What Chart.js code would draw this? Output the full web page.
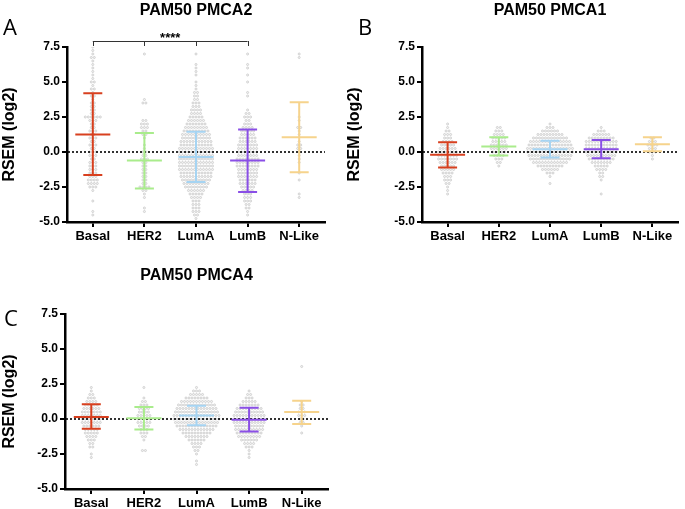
<!DOCTYPE html>
<html><head><meta charset="utf-8">
<script src="https://cdn.jsdelivr.net/npm/chart.js@4.4.1/dist/chart.umd.min.js"></script>
<style>
html,body{margin:0;padding:0;background:#fff;width:685px;height:509px;overflow:hidden}
.p{position:absolute}
</style></head><body>
<canvas id="cA" class="p" style="left:0;top:0" width="345" height="250"></canvas>
<canvas id="cB" class="p" style="left:345px;top:0" width="340" height="250"></canvas>
<canvas id="cC" class="p" style="left:0;top:250px" width="345" height="259"></canvas>
<script>
// ---------- data ----------
const categories = ['Basal', 'HER2', 'LumA', 'LumB', 'N-Like'];
const yTickValues = [-5.0, -2.5, 0.0, 2.5, 5.0, 7.5];
const groupColors = ['#d8401f', '#a9ec8c', '#a6d4f2', '#8a4fe6', '#f6d38c'];

// mean and mean±SD per subtype
const pmca2Mean  = [1.25, -0.6, -0.35, -0.6, 1.05];
const pmca2Upper = [4.2, 1.35, 1.45, 1.6, 3.55];
const pmca2Lower = [-1.65, -2.6, -2.15, -2.85, -1.45];

const pmca1Mean  = [-0.2, 0.4, 0.2, 0.2, 0.55];
const pmca1Upper = [0.7, 1.05, 0.8, 0.85, 1.05];
const pmca1Lower = [-1.1, -0.25, -0.4, -0.45, 0.05];

const pmca4Mean  = [0.15, 0.05, 0.25, -0.05, 0.5];
const pmca4Upper = [1.05, 0.85, 0.95, 0.8, 1.3];
const pmca4Lower = [-0.7, -0.75, -0.45, -0.9, -0.35];

// individual samples as [value, number of samples at that value]
const pmca2Basal = [[7.5,1],[7.25,1],[7,1],[6.75,2],[6.5,1],[6.25,1],[6,1],[5.75,1],[5.5,1],[5.25,1],[5,2],[4.75,1],[4.5,2],[4.25,1],[4,2],[3.75,1],[3.5,2],[3.25,2],[3,2],[2.75,2],[2.5,6],[2.25,3],[2,2],[1.75,2],[1.5,3],[1.25,2],[1,3],[0.75,2],[0.5,3],[0.25,2],[0,3],[-0.25,3],[-0.5,2],[-0.75,3],[-1,3],[-1.25,3],[-1.5,3],[-1.75,3],[-2,4],[-2.25,4],[-2.5,3],[-2.75,1],[-3.5,1],[-4.25,1],[-4.5,1]];
const pmca2HER2 = [[7,1],[3.75,1],[3.5,2],[2.25,2],[2,3],[1.75,3],[1.5,2],[1.25,2],[1,1],[0.5,1],[0.25,1],[0,2],[-0.25,2],[-0.5,3],[-0.75,2],[-1,2],[-1.25,2],[-1.5,2],[-1.75,2],[-2,2],[-2.25,2],[-2.5,4],[-2.75,2],[-3,1],[-3.25,1],[-4,1],[-4.25,1]];
const pmca2LumA = [[7,1],[6.25,1],[6,1],[5.75,1],[5.5,1],[5,1],[4.75,1],[4.5,1],[4.25,2],[4,2],[3.75,2],[3.5,3],[3.25,3],[3,4],[2.75,4],[2.5,5],[2.25,6],[2,7],[1.75,8],[1.5,9],[1.25,10],[1,10],[0.75,11],[0.5,11],[0.25,12],[0,12],[-0.25,12],[-0.5,12],[-0.75,12],[-1,12],[-1.25,12],[-1.5,11],[-1.75,11],[-2,10],[-2.25,9],[-2.5,8],[-2.75,6],[-3,5],[-3.25,4],[-3.5,3],[-3.75,3],[-4,3],[-4.25,3],[-4.5,2],[-4.75,1]];
const pmca2LumB = [[7,1],[6.25,1],[6,1],[5.5,1],[5,1],[4.25,1],[4,1],[3,1],[2.75,2],[2.5,3],[2.25,2],[2,3],[1.75,4],[1.5,5],[1.25,5],[1,6],[0.75,6],[0.5,7],[0.25,7],[0,7],[-0.25,7],[-0.5,8],[-0.75,8],[-1,8],[-1.25,7],[-1.5,7],[-1.75,7],[-2,6],[-2.25,6],[-2.5,5],[-2.75,4],[-3,3],[-3.25,3],[-3.5,3],[-3.75,2],[-4,2],[-4.25,1],[-4.5,1]];
const pmca2NLike = [[7,1],[6.75,1],[2.5,1],[2.25,1],[1.75,2],[1.5,1],[1.25,1],[0.75,1],[0.5,2],[0.25,2],[0,1],[-0.25,1],[-0.5,1],[-0.75,1],[-1.5,1],[-2,1],[-3,1],[-3.25,1]];

const pmca1Basal = [[2,1],[1.75,1],[1.5,2],[1.25,3],[1,3],[0.75,4],[0.5,5],[0.25,6],[0,7],[-0.25,7],[-0.5,7],[-0.75,6],[-1,5],[-1.25,5],[-1.5,4],[-1.75,3],[-2,3],[-2.25,2],[-2.5,1],[-2.75,1],[-3,1]];
const pmca1HER2 = [[1.75,2],[1.5,3],[1.25,4],[1,5],[0.75,5],[0.5,6],[0.25,6],[0,5],[-0.25,4],[-0.5,3],[-0.75,2],[-1,1]];
const pmca1LumA = [[2,1],[1.75,3],[1.5,6],[1.25,9],[1,12],[0.75,14],[0.5,15],[0.25,16],[0,16],[-0.25,15],[-0.5,14],[-0.75,12],[-1,9],[-1.25,6],[-1.5,3],[-1.75,1],[-2.25,1]];
const pmca1LumB = [[1.75,1],[1.5,3],[1.25,6],[1,9],[0.75,11],[0.5,11],[0.25,11],[0,11],[-0.25,10],[-0.5,9],[-0.75,7],[-1,5],[-1.25,4],[-1.5,2],[-1.75,2],[-2,1],[-3,1]];
const pmca1NLike = [[1,2],[0.75,3],[0.5,4],[0.25,3],[0,3],[-0.25,1],[-0.5,1]];

const pmca4Basal = [[2.25,1],[2,1],[1.75,2],[1.5,3],[1.25,4],[1,5],[0.75,6],[0.5,7],[0.25,7],[0,7],[-0.25,7],[-0.5,6],[-0.75,5],[-1,5],[-1.25,4],[-1.5,3],[-1.75,2],[-2,2],[-2.5,1],[-2.75,1]];
const pmca4HER2 = [[2.25,1],[1.5,1],[1.25,2],[1,3],[0.75,4],[0.5,4],[0.25,5],[0,5],[-0.25,5],[-0.5,4],[-0.75,3],[-1,3],[-1.25,2],[-1.5,1],[-2.25,2]];
const pmca4LumA = [[2.25,1],[2,3],[1.75,5],[1.5,8],[1.25,11],[1,13],[0.75,14],[0.5,15],[0.25,16],[0,16],[-0.25,15],[-0.5,14],[-0.75,12],[-1,10],[-1.25,8],[-1.5,6],[-1.75,4],[-2,3],[-2.25,2],[-2.5,1],[-3,1],[-3.25,1]];
const pmca4LumB = [[2,1],[1.75,2],[1.5,3],[1.25,5],[1,7],[0.75,9],[0.5,10],[0.25,11],[0,11],[-0.25,11],[-0.5,10],[-0.75,10],[-1,9],[-1.25,8],[-1.5,6],[-1.75,4],[-2,3],[-2.25,1],[-2.5,1],[-2.75,1]];
const pmca4NLike = [[3.75,1],[1.25,1],[1,2],[0.75,2],[0.5,3],[0.25,3],[0,2],[-0.25,2],[-0.5,1],[-1,1]];

// ---------- drawing ----------
const FONT = "'Liberation Sans', Arial, Helvetica, sans-serif";
const DOT_GAP = 3; // px between neighbouring dots in a swarm row

function expand(pairs, pos) {
  const out = [];
  pairs.forEach(([v, c]) => { for (let k = 0; k < c; k++) out.push({x: pos, y: v, k: k, n: c}); });
  return out;
}

const extrasPlugin = {
  id: 'extras',
  afterDatasetsDraw(chart) {
    const cfg = chart.options.plugins.extras;
    const ctx = chart.ctx, xs = chart.scales.x, ys = chart.scales.y, a = chart.chartArea;
    ctx.save();
    // dotted zero line
    const y0 = ys.getPixelForValue(0);
    ctx.strokeStyle = '#000'; ctx.lineWidth = 1.6; ctx.setLineDash([2, 2]);
    ctx.beginPath(); ctx.moveTo(a.left + 1, y0); ctx.lineTo(a.right, y0); ctx.stroke();
    ctx.setLineDash([]);
    // mean ± SD bars
    ctx.lineWidth = 2;
    categories.forEach((c, i) => {
      const x = xs.getPixelForValue(i + 1);
      const ym = ys.getPixelForValue(cfg.mean[i]);
      const yu = ys.getPixelForValue(cfg.upper[i]);
      const yl = ys.getPixelForValue(cfg.lower[i]);
      ctx.strokeStyle = groupColors[i];
      ctx.beginPath();
      ctx.moveTo(x, yu); ctx.lineTo(x, yl);
      ctx.moveTo(x - 9.5, yu); ctx.lineTo(x + 9.5, yu);
      ctx.moveTo(x - 9.5, yl); ctx.lineTo(x + 9.5, yl);
      ctx.moveTo(x - 17.5, ym); ctx.lineTo(x + 17.5, ym);
      ctx.stroke();
    });
    ctx.restore();
  },
  afterDraw(chart) {
    const cfg = chart.options.plugins.extras;
    const ctx = chart.ctx, xs = chart.scales.x, a = chart.chartArea;
    ctx.save();
    ctx.fillStyle = '#000';
    ctx.textBaseline = 'alphabetic';
    // panel title
    ctx.font = 'bold 16px ' + FONT;
    ctx.textAlign = 'center';
    ctx.fillText(cfg.title, (a.left + a.right) / 2, cfg.titleY);
    // panel letter
    ctx.font = "22px 'Open Sans', 'Liberation Sans', sans-serif";
    ctx.textAlign = 'left';
    ctx.fillText(cfg.letter, cfg.letterX, cfg.letterY);
    // significance bracket
    if (cfg.bracket) {
      const xsB = cfg.bracket.map(i => xs.getPixelForValue(i + 1));
      const yb = a.top - 6;
      ctx.strokeStyle = '#333'; ctx.lineWidth = 1;
      ctx.beginPath();
      ctx.moveTo(xsB[0], yb + 0.5); ctx.lineTo(xsB[xsB.length - 1], yb + 0.5);
      xsB.forEach(x => { ctx.moveTo(Math.round(x) + 0.5, yb); ctx.lineTo(Math.round(x) + 0.5, yb + 5); });
      ctx.stroke();
      ctx.font = 'bold 13px ' + FONT;
      ctx.textAlign = 'center';
      ctx.fillText('****', (xsB[0] + xsB[xsB.length - 1]) / 2, yb + 0.5);
    }
    ctx.restore();
  }
};

function makePanel(p) {
  const datasets = p.dots.map((pairs, gi) => ({
    data: expand(pairs, gi + 1),
    pointRadius: 1.05,
    pointBorderWidth: 0.7,
    backgroundColor: 'rgba(240,240,240,0.9)',
    borderColor: '#c6c6c6',
    showLine: false
  }));
  const chart = new Chart(document.getElementById(p.id), {
    type: 'scatter',
    data: {datasets},
    plugins: [extrasPlugin],
    options: {
      responsive: false,
      animation: false,
      layout: {padding: {left: 0, right: p.padRight, top: p.padTop, bottom: 0}},
      plugins: {
        legend: {display: false},
        tooltip: {enabled: false},
        extras: {title: p.title, titleY: p.titleY, letter: p.letter, letterX: p.letterX, letterY: p.letterY,
                 mean: p.mean, upper: p.upper, lower: p.lower, bracket: p.bracket}
      },
      scales: {
        x: {
          type: 'linear', min: 0.5, max: 5.5,
          afterBuildTicks: s => { s.ticks = categories.map((c, i) => ({value: i + 1})); },
          ticks: {callback: v => categories[Math.round(v) - 1], color: '#000', autoSkip: false, maxRotation: 0,
                  padding: 2, font: {family: FONT, weight: 'bold', size: 13}},
          grid: {drawOnChartArea: false, drawTicks: true, tickLength: 5, color: '#000', lineWidth: 2},
          border: {display: true, color: '#000', width: 2.5},
          afterFit: s => { s.height = p.xH; }
        },
        y: {
          min: -5, max: 7.5,
          afterBuildTicks: s => { s.ticks = yTickValues.map(v => ({value: v})); },
          ticks: {callback: v => Number(v).toFixed(1), color: '#000', padding: 2,
                  font: {family: FONT, weight: 'bold', size: 12}},
          grid: {drawOnChartArea: false, drawTicks: true, tickLength: 5, color: '#000', lineWidth: 2},
          border: {display: true, color: '#000', width: 2.5},
          title: {display: true, text: 'RSEM (log2)', color: '#000', padding: 0,
                  font: {family: FONT, weight: 'bold', size: 16}},
          afterFit: s => { s.width = p.yW; }
        }
      }
    }
  });
  // beeswarm offsets: spread each row of equal values horizontally
  const xs = chart.scales.x;
  const unitPx = Math.abs(xs.getPixelForValue(2) - xs.getPixelForValue(1));
  chart.data.datasets.forEach((ds, gi) => ds.data.forEach(pt => {
    pt.x = gi + 1 + (pt.k - (pt.n - 1) / 2) * DOT_GAP / unitPx;
  }));
  chart.update('none');
  return chart;
}

makePanel({id: 'cA', title: 'PAM50 PMCA2', titleY: 15, letter: 'A', letterX: 3, letterY: 35,
  mean: pmca2Mean, upper: pmca2Upper, lower: pmca2Lower,
  dots: [pmca2Basal, pmca2HER2, pmca2LumA, pmca2LumB, pmca2NLike],
  bracket: [0, 1, 2, 3], yW: 67, xH: 28, padTop: 47, padRight: 20});
makePanel({id: 'cB', title: 'PAM50 PMCA1', titleY: 15, letter: 'B', letterX: 13, letterY: 35,
  mean: pmca1Mean, upper: pmca1Upper, lower: pmca1Lower,
  dots: [pmca1Basal, pmca1HER2, pmca1LumA, pmca1LumB, pmca1NLike],
  bracket: null, yW: 77, xH: 28, padTop: 47, padRight: 7});
makePanel({id: 'cC', title: 'PAM50 PMCA4', titleY: 30, letter: 'C', letterX: 4, letterY: 76,
  mean: pmca4Mean, upper: pmca4Upper, lower: pmca4Lower,
  dots: [pmca4Basal, pmca4HER2, pmca4LumA, pmca4LumB, pmca4NLike],
  bracket: null, yW: 65, xH: 20, padTop: 64, padRight: 17});
</script>
</body></html>
